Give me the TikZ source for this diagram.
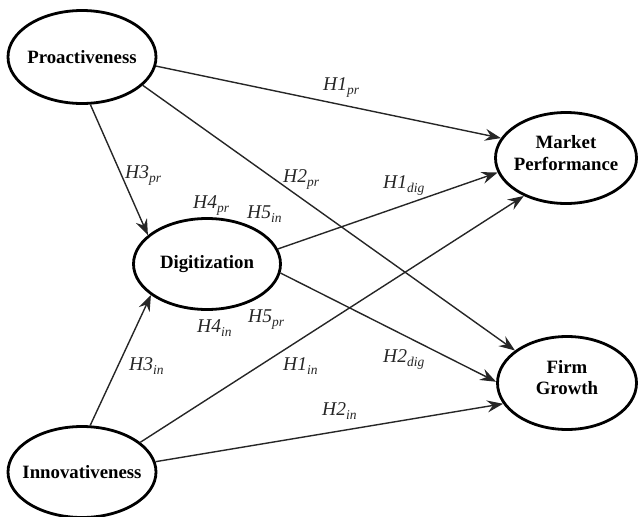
\documentclass[tikz,border=0pt]{standalone}
\usepackage{fontspec}
\setmainfont{Liberation Serif}
\usetikzlibrary{arrows.meta,shapes.geometric}
\newcommand{\hyp}[2]{\textit{H#1\raisebox{-0.55ex}{\fontsize{13.5}{13.5}\selectfont #2}}}
\begin{document}
\begin{tikzpicture}[x=1pt,y=-1pt,
  latent/.style={ellipse, draw, line width=2.8pt, inner xsep=-30pt, inner ysep=0pt, align=center,
    font=\fontsize{18.8}{21.5}\selectfont\bfseries},
  relpath/.style={line width=1.4pt, draw=black!85,
    -{Stealth[length=16pt,width=12pt,inset=5.5pt]}},
  hlab/.style={anchor=base west, font=\fontsize{19.5}{19.5}\selectfont, inner sep=0pt, text=black!85}]
\useasboundingbox (0,0) rectangle (638,517);
\node[latent, minimum width=148pt, minimum height=93pt] (pro) at (82,57) {Proactiveness};
\node[latent, minimum width=147pt, minimum height=91pt] (dig) at (207,264) {Digitization};
\node[latent, minimum width=148pt, minimum height=91pt] (inn) at (82,472) {Innovativeness};
\node[latent, minimum width=141pt, minimum height=91pt] (mkt) at (566,158) {Market\\Performance\rule[-10pt]{0pt}{10pt}};
\node[latent, minimum width=139pt, minimum height=93pt] (fg) at (567,383) {Firm\\Growth\rule[-11pt]{0pt}{11pt}};

\draw[relpath] (pro.-7.6) -- (mkt.163);
\draw[relpath] (pro.-25.5) -- (fg.148);
\draw[relpath] (pro.-80) -- (dig.154);
\draw[relpath] (dig.12) -- (mkt.-168.5);
\draw[relpath] (dig.-7) -- (fg.179);
\draw[relpath] (inn.80) -- (dig.209);
\draw[relpath] (inn.27) -- (mkt.222);
\draw[relpath] (inn.8) -- (fg.198);

\node[hlab] (h1pr) at (323,90) {\hyp{1}{pr}};
\node[hlab] (h2pr) at (283,182) {\hyp{2}{pr}};
\node[hlab] (h3pr) at (125,178) {\hyp{3}{pr}};
\node[hlab] (h4pr) at (193,208) {\hyp{4}{pr}};
\node[hlab] (h5in) at (247,218) {\hyp{5}{in}};
\node[hlab] (h1dig) at (383,188) {\hyp{1}{dig}};
\node[hlab] (h4in) at (197,332) {\hyp{4}{in}};
\node[hlab] (h5pr) at (248,322) {\hyp{5}{pr}};
\node[hlab] (h3in) at (129,370) {\hyp{3}{in}};
\node[hlab] (h1in) at (283,370) {\hyp{1}{in}};
\node[hlab] (h2dig) at (383,362) {\hyp{2}{dig}};
\node[hlab] (h2in) at (322,415) {\hyp{2}{in}};
\end{tikzpicture}
\end{document}
